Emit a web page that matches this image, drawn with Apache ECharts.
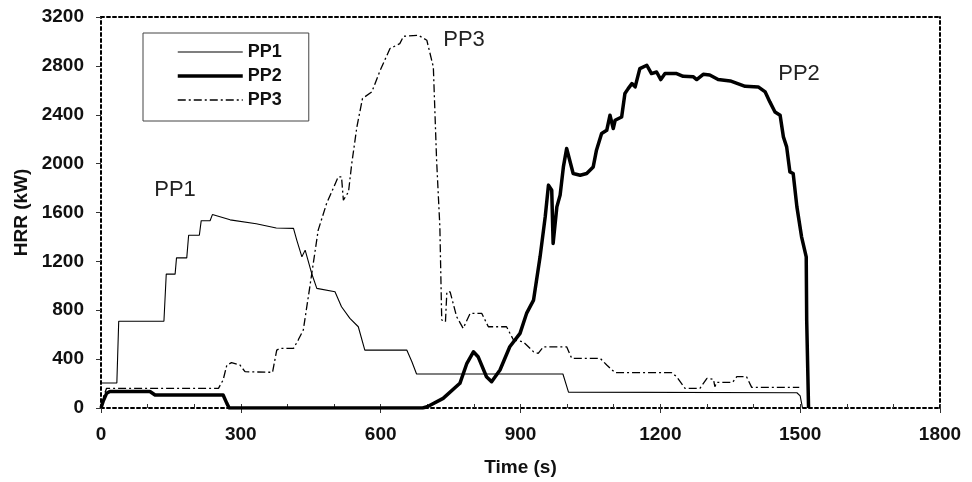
<!DOCTYPE html>
<html>
<head>
<meta charset="utf-8">
<script src="https://cdn.jsdelivr.net/npm/echarts@6/dist/echarts.min.js"></script>
<style>html,body{margin:0;padding:0;background:#fff}#c{width:972px;height:482px}</style>
</head>
<body>
<div id="c"></div>
<script>
// ---- Data (time in s, HRR in kW) ----
const pp1Time = [0,34,38,135,140,159,162,184,188,211,215,234,239,277,333,376,413,420,431,438,452,463,502,516,534,552,566,656,667,677,991,1003,1493,1500,1503,1505];
const pp1HRR  = [205,205,710,710,1096,1096,1229,1229,1414,1414,1533,1533,1583,1540,1508,1473,1470,1374,1237,1292,1101,979,951,829,733,665,474,474,379,278,278,130,125,100,40,0];

const pp2Time = [0,5,12,19,105,116,262,270,275,690,700,734,770,785,799,809,827,838,856,877,899,913,928,942,953,960,967,970,978,985,992,999,1013,1028,1042,1056,1063,1074,1085,1092,1099,1103,1117,1124,1131,1139,1146,1156,1171,1181,1192,1201,1210,1235,1249,1271,1278,1292,1306,1324,1350,1382,1410,1425,1435,1446,1457,1464,1471,1478,1485,1493,1503,1513,1514,1518];
const pp2HRR  = [0,60,120,135,135,106,106,38,0,0,10,79,202,366,460,420,256,215,311,501,611,774,883,1237,1564,1824,1783,1347,1646,1742,1973,2124,1919,1905,1919,1973,2110,2246,2273,2396,2287,2355,2382,2574,2614,2655,2628,2778,2805,2737,2750,2688,2737,2737,2715,2710,2688,2731,2725,2688,2677,2633,2628,2587,2505,2423,2396,2219,2137,1932,1919,1646,1401,1237,720,0];

const pp3Time = [0,6,12,252,262,270,280,298,309,368,377,384,413,423,434,448,466,484,509,516,520,531,538,549,561,581,599,620,641,649,681,699,713,720,727,731,734,739,742,749,763,777,792,817,831,870,885,906,928,938,949,999,1010,1071,1085,1103,1224,1235,1253,1285,1300,1314,1317,1321,1355,1364,1385,1396,1498];
const pp3HRR  = [0,100,161,161,229,352,371,352,297,292,474,488,488,556,638,992,1456,1674,1892,1892,1701,1769,2001,2301,2533,2587,2764,2942,2982,3042,3050,3010,2791,2028,1483,720,706,706,951,951,747,652,774,774,665,665,556,542,460,447,501,501,406,406,352,289,289,256,161,161,243,235,174,210,210,256,256,169,169];

const seriesNames = ['PP1','PP2','PP3'];
const xTicks = {min:0, max:1800, step:300, minorStep:100};
const yTicks = {min:0, max:3200, step:400};
const annotations = [
  {text:'PP1', x:175, y:190},
  {text:'PP3', x:464, y:40},
  {text:'PP2', x:799, y:74}
];

function zip(t, v){ return t.map((x,i)=>[x, v[i]]); }

const FONT = '"Liberation Sans", Arial, Helvetica, sans-serif';
const dotted = {color:'#000', width:2, type:[3,3]};
const lineStyles = {
  PP1:{color:'#000', width:1.1},
  PP2:{color:'#000', width:3.5, join:'round'},
  PP3:{color:'#000', width:1.3, type:[8,3,2,3]}
};

const chart = echarts.init(document.getElementById('c'), null, {renderer:'canvas'});
chart.setOption({
  animation:false,
  backgroundColor:'#fff',
  textStyle:{fontFamily:FONT},
  grid:{left:101, right:32, top:17, bottom:74, containLabel:false},
  legend:{
    data:seriesNames.map(n=>({name:n, lineStyle:lineStyles[n], itemStyle:{opacity:0}})),
    orient:'vertical', left:143, top:33,
    padding:[10,27,12,33], itemWidth:65, itemHeight:14, itemGap:6,
    borderColor:'#444', borderWidth:1, backgroundColor:'#fff',
    itemStyle:{opacity:0},
    textStyle:{fontFamily:FONT, fontSize:18, fontWeight:'bold', color:'#111', lineHeight:18}
  },
  xAxis:[
    {type:'value', min:xTicks.min, max:xTicks.max, interval:xTicks.step, position:'bottom',
     axisLine:{show:true, onZero:false, lineStyle:dotted},
     axisTick:{show:true, length:5, lineStyle:{color:'#333'}},
     axisLabel:{fontFamily:FONT, fontSize:19, fontWeight:'bold', color:'#111', margin:17, formatter:v=>String(v)},
     splitLine:{show:false},
     name:'Time (s)', nameLocation:'middle', nameGap:50,
     nameTextStyle:{fontFamily:FONT, fontSize:19, fontWeight:'bold', color:'#111'}},
    {type:'value', min:xTicks.min, max:xTicks.max, interval:xTicks.minorStep, position:'bottom',
     axisLine:{show:false, onZero:false}, axisTick:{show:true, inside:true, length:4, lineStyle:{color:'#333'}},
     axisLabel:{show:false}, splitLine:{show:false}},
    {type:'value', min:xTicks.min, max:xTicks.max, position:'top',
     axisLine:{show:true, onZero:false, lineStyle:dotted}, axisTick:{show:false},
     axisLabel:{show:false}, splitLine:{show:false}}
  ],
  yAxis:[
    {type:'value', min:yTicks.min, max:yTicks.max, interval:yTicks.step, position:'left',
     axisLine:{show:true, onZero:false, lineStyle:dotted},
     axisTick:{show:true, length:5, lineStyle:{color:'#333'}},
     axisLabel:{fontFamily:FONT, fontSize:19, fontWeight:'bold', color:'#111', margin:17, formatter:v=>String(v)},
     splitLine:{show:false},
     name:'HRR (kW)', nameLocation:'middle', nameGap:68, nameRotate:90,
     nameTextStyle:{fontFamily:FONT, fontSize:19, fontWeight:'bold', color:'#111'}},
    {type:'value', min:yTicks.min, max:yTicks.max, position:'right',
     axisLine:{show:true, onZero:false, lineStyle:dotted}, axisTick:{show:false},
     axisLabel:{show:false}, splitLine:{show:false}}
  ],
  series:seriesNames.map((n,i)=>({
    name:n, type:'line', data:[zip(pp1Time,pp1HRR), zip(pp2Time,pp2HRR), zip(pp3Time,pp3HRR)][i],
    symbol:'none', showSymbol:false, color:'#000', lineStyle:lineStyles[n], z:[3,4,2][i]
  })),
  graphic: annotations.map(a=>({type:'text', x:a.x, y:a.y,
    style:{text:a.text, fontFamily:FONT, fontSize:22, fill:'#222', align:'center', verticalAlign:'middle'}}))
});
</script>
</body>
</html>
